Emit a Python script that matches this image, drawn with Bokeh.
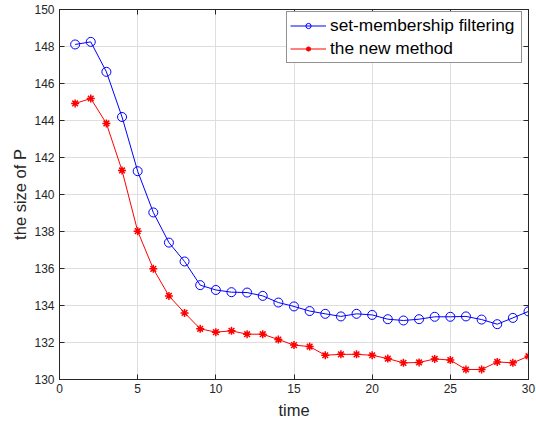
from bokeh.plotting import figure
from bokeh.models import Range1d, LinearAxis, FixedTicker, Legend, LegendItem, CustomJSTickFormatter
from bokeh.embed import file_html
from bokeh.resources import INLINE

time = list(range(1, 31))
set_membership = [148.11, 148.25, 146.63, 144.19, 141.26, 139.03, 137.40, 136.38, 135.10, 134.84,
                  134.72, 134.70, 134.52, 134.16, 133.95, 133.70, 133.55, 133.41, 133.55, 133.49,
                  133.26, 133.19, 133.26, 133.39, 133.39, 133.41, 133.24, 132.99, 133.33, 133.68]
new_method = [144.92, 145.19, 143.84, 141.30, 138.02, 135.98, 134.52, 133.60, 132.74, 132.56,
              132.63, 132.45, 132.45, 132.16, 131.86, 131.78, 131.31, 131.36, 131.36, 131.31,
              131.13, 130.90, 130.92, 131.11, 131.05, 130.54, 130.54, 130.95, 130.90, 131.26]
x_ticks = [0, 5, 10, 15, 20, 25, 30]
y_ticks = list(range(130, 151, 2))

FONT = "Liberation Sans"
AX = "#262626"

p = figure(width=536, height=422, output_backend="svg", toolbar_location=None,
           x_range=Range1d(0, 30), y_range=Range1d(130, 150),
           min_border_left=59, min_border_right=8, min_border_top=9, min_border_bottom=43)
p.background_fill_color = "white"
p.border_fill_color = "white"
p.outline_line_color = AX
p.outline_line_width = 1

for ax in p.xaxis + p.yaxis:
    ax.axis_line_color = AX
    ax.major_tick_line_color = AX
    ax.major_tick_in = 5
    ax.major_tick_out = 0
    ax.minor_tick_line_color = None
    ax.major_label_text_font = FONT
    ax.major_label_text_font_size = "12px"
    ax.major_label_text_color = AX
    ax.axis_label_text_font = FONT
    ax.axis_label_text_font_size = "16.5px"
    ax.axis_label_text_font_style = "normal"
    ax.axis_label_text_color = AX
p.xaxis.ticker = FixedTicker(ticks=x_ticks)
p.yaxis.ticker = FixedTicker(ticks=y_ticks)
p.xaxis.axis_label = "time"
p.yaxis.axis_label = "the size of P"
p.xaxis.major_label_standoff = 4
p.yaxis.major_label_standoff = 5
p.xaxis.axis_label_standoff = 5
p.yaxis.axis_label_standoff = 2

# box ticks on top and right
blank = CustomJSTickFormatter(code="return ''")
top = LinearAxis(ticker=FixedTicker(ticks=x_ticks), formatter=blank,
                 major_tick_in=5, major_tick_out=0, minor_tick_line_color=None,
                 axis_line_color=AX, major_tick_line_color=AX, major_label_standoff=0)
right = LinearAxis(ticker=FixedTicker(ticks=y_ticks), formatter=blank,
                   major_tick_in=5, major_tick_out=0, minor_tick_line_color=None,
                   axis_line_color=AX, major_tick_line_color=AX, major_label_standoff=0)
p.add_layout(top, "above")
p.add_layout(right, "right")

p.xgrid.ticker = FixedTicker(ticks=x_ticks)
p.ygrid.ticker = FixedTicker(ticks=y_ticks)
p.grid.grid_line_color = "#dedede"
p.grid.grid_line_width = 1

l1 = p.line(time, set_membership, color="#0000ff", line_width=1)
s1 = p.scatter(time, set_membership, marker="circle", size=9, fill_color=None,
               line_color="#0000ff", line_width=1)
l2 = p.line(time, new_method, color="#ff0000", line_width=1)
s2 = p.scatter(time, new_method, marker="asterisk", size=8, line_color="#ff0000", line_width=1.5)

legend = Legend(items=[LegendItem(label="set-membership filtering", renderers=[l1, s1]),
                       LegendItem(label="the new method", renderers=[l2, s2])],
                location=(227, 316))
legend.label_text_font = FONT
legend.label_text_font_size = "17.3px"
legend.label_text_color = "black"
legend.border_line_color = AX
legend.border_line_width = 1
legend.background_fill_color = "white"
legend.background_fill_alpha = 1
legend.glyph_width = 36
legend.glyph_height = 13
legend.label_height = 19
legend.label_width = 188
legend.label_standoff = 4
legend.padding = 3
legend.spacing = 2
legend.margin = 0
p.add_layout(legend, "center")

open("out.html", "w").write(file_html(p, INLINE))
